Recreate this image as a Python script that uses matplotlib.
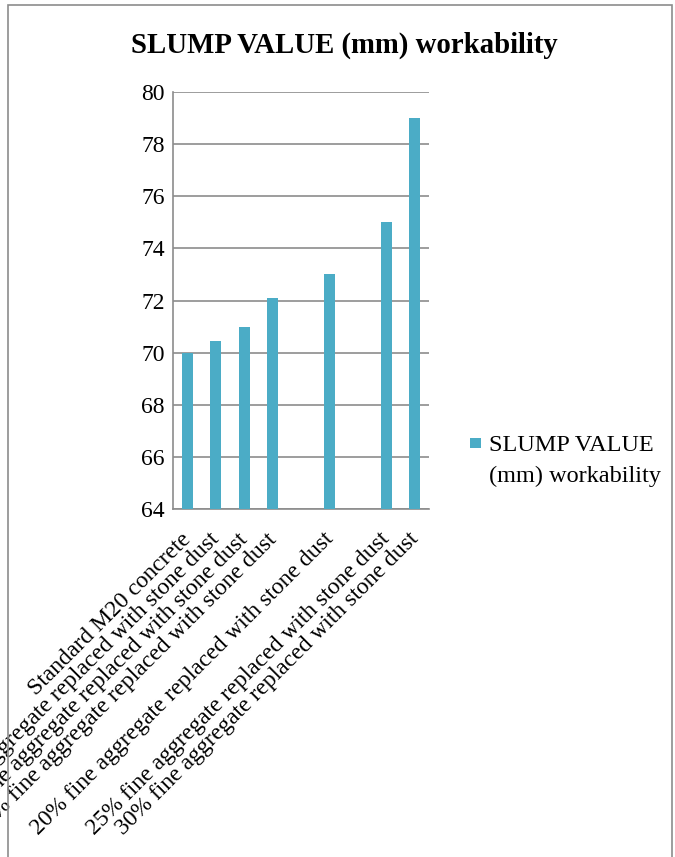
import numpy as np
import matplotlib.pyplot as plt
import matplotlib.transforms as mtransforms
from matplotlib.patches import Rectangle
from matplotlib.legend_handler import HandlerPatch

# slump test results
categories = ['Standard M20 concrete',
              '5% fine aggregate replaced with stone dust',
              '10% fine aggregate replaced with stone dust',
              '15% fine aggregate replaced with stone dust',
              '',
              '20% fine aggregate replaced with stone dust',
              '',
              '25% fine aggregate replaced with stone dust',
              '30% fine aggregate replaced with stone dust']
slump = [70.0, 70.43, 71.0, 72.1, np.nan, 73.0, np.nan, 75.0, 79.0]
series_name = 'SLUMP VALUE (mm) workability'
yticks = [64, 66, 68, 70, 72, 74, 76, 78, 80]

plt.rcParams['font.family'] = ['Liberation Serif', 'DejaVu Serif']

fig = plt.figure(figsize=(6.75, 8.57), dpi=100)
ax = fig.add_axes([0.2563, 0.4057, 0.3793, 0.4873])

x = np.arange(len(categories))
bar_color = '#4BACC6'
bars = ax.bar(x, slump, width=0.39, color=bar_color, zorder=3)

ax.set_ylim(64, 80)
ax.set_xlim(-0.5, len(categories) - 0.5)
ax.set_yticks(yticks)
ax.tick_params(axis='y', length=0, pad=6, labelsize=17)
ax.set_xticks(x)
ax.set_xticklabels(categories, rotation=45, ha='right', va='top',
                   rotation_mode='anchor', fontsize=17)
ax.tick_params(axis='x', length=0, pad=12)
shift = mtransforms.ScaledTranslation(-5 / 72, -2 / 72, fig.dpi_scale_trans)
for lab in ax.get_xticklabels():
    lab.set_transform(lab.get_transform() + shift)
ax.yaxis.grid(True, color='#8c8c8c', linewidth=1.2, zorder=0)

for side in ['top', 'right']:
    ax.spines[side].set_visible(False)
for side in ['left', 'bottom']:
    ax.spines[side].set_color('#8c8c8c')
    ax.spines[side].set_linewidth(1.2)

fig.text(0.5104, 0.947, series_name, ha='center', va='center',
         fontsize=20.7, fontweight='bold')


# square legend key level with the first line of the label
def top_square(legend, orig_handle, xdescent, ydescent, width, height, fontsize):
    s = 0.42 * fontsize
    return Rectangle((-xdescent + width - s, -ydescent + height / 2 - s / 2 + 0.72 * fontsize),
                     s, s)


leg = fig.legend(handles=[bars[0]], labels=['SLUMP VALUE\n(mm) workability'],
                 loc='center left', bbox_to_anchor=(0.658, 0.462),
                 frameon=False, fontsize=17.5, handlelength=0.6,
                 handleheight=0.6, handletextpad=0.35,
                 handler_map={bars[0]: HandlerPatch(patch_func=top_square)})
for t in leg.get_texts():
    t.set_linespacing(1.6)

# outer chart frame
fig.patches.append(Rectangle((8 / 675, -0.1), (672 - 8) / 675, 1.1 - 5 / 857,
                             transform=fig.transFigure, fill=False,
                             edgecolor='#8c8c8c', linewidth=1.2))

fig.savefig('out.png', dpi=100)
